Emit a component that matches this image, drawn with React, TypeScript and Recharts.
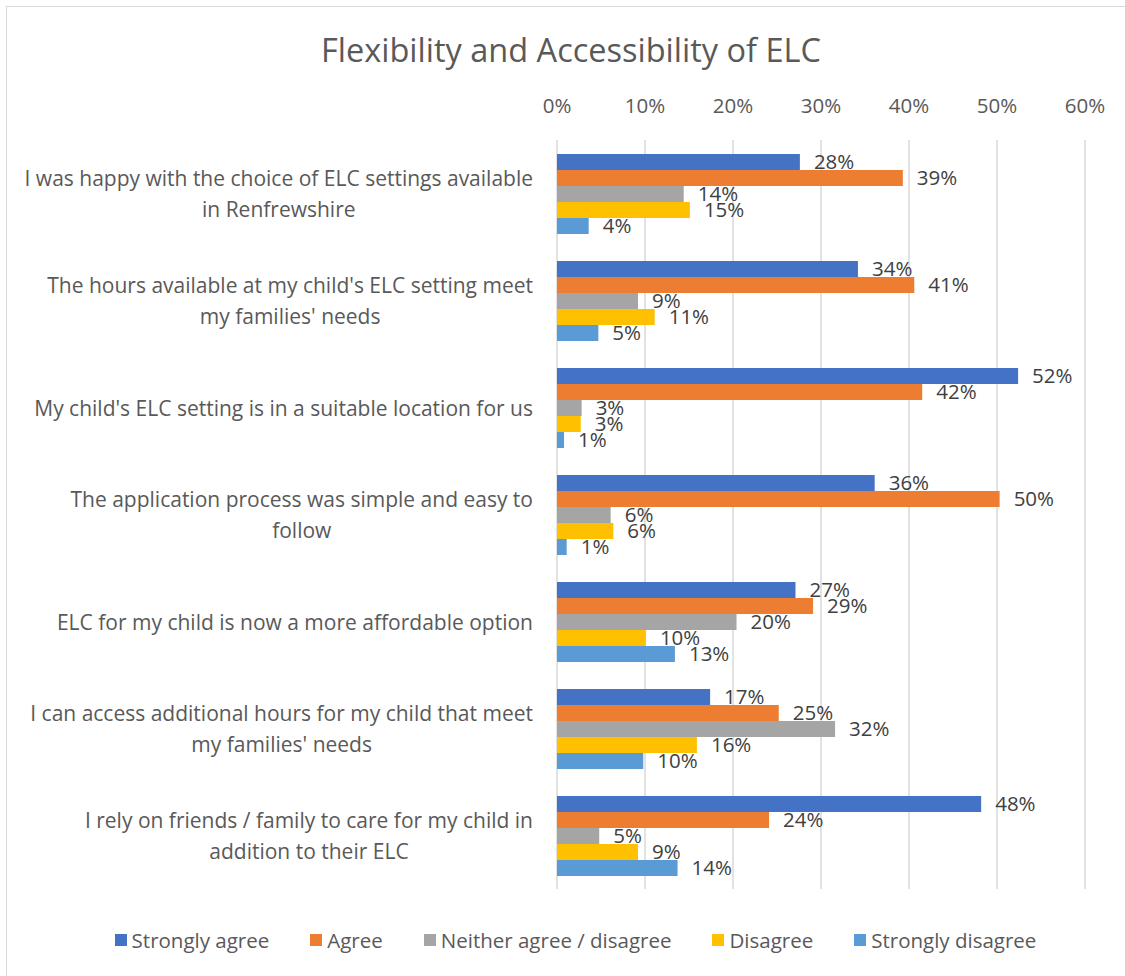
import React from "react";
import { BarChart, Bar, XAxis, YAxis, CartesianGrid, Legend, LabelList } from "recharts";

const categories = [
  "I was happy with the choice of ELC settings available\nin Renfrewshire",
  "The hours available at my child's ELC setting meet\nmy families' needs",
  "My child's ELC setting is in a suitable location for us",
  "The application process was simple and easy to\nfollow",
  "ELC for my child is now a more affordable option",
  "I can access additional hours for my child that meet\nmy families' needs",
  "I rely on friends / family to care for my child in\naddition to their ELC",
];

const stronglyAgree = [0.276, 0.342, 0.524, 0.361, 0.271, 0.174, 0.482];
const agree = [0.393, 0.406, 0.415, 0.503, 0.291, 0.252, 0.241];
const neither = [0.144, 0.092, 0.028, 0.061, 0.204, 0.316, 0.048];
const disagree = [0.151, 0.111, 0.027, 0.064, 0.101, 0.159, 0.092];
const stronglyDisagree = [0.036, 0.047, 0.008, 0.011, 0.134, 0.098, 0.137];

const xTicks = [0, 0.1, 0.2, 0.3, 0.4, 0.5, 0.6];

const series = [
  { key: "sa", name: "Strongly agree", color: "#4472C4", values: stronglyAgree },
  { key: "a", name: "Agree", color: "#ED7D31", values: agree },
  { key: "n", name: "Neither agree / disagree", color: "#A5A5A5", values: neither },
  { key: "d", name: "Disagree", color: "#FFC000", values: disagree },
  { key: "sd", name: "Strongly disagree", color: "#5B9BD5", values: stronglyDisagree },
];

const data = categories.map((name, i) => {
  const row: any = { name };
  series.forEach((s) => (row[s.key] = s.values[i]));
  return row;
});

const FONT = "'Open Sans', Lato, sans-serif";
const TEXT = "#595959";
const FS = 21;

let ctx: CanvasRenderingContext2D | null = null;
function measure(s: string) {
  if (!ctx) ctx = document.createElement("canvas").getContext("2d");
  if (!ctx) return s.length * 10;
  ctx.font = `${FS}px ${FONT}`;
  return ctx.measureText(s).width;
}

const pct = (v: any) => `${Math.round(Number(v) * 100)}%`;

// category labels: wrapped lines centred on the widest line, right edge at 533
function CategoryTick({ y, payload }: any) {
  const lines = String(payload.value).split("\n");
  const maxW = Math.max(...lines.map(measure));
  const cx = 533 - maxW / 2;
  return (
    <g>
      {lines.map((ln, i) => (
        <text
          key={i}
          x={cx}
          y={y + (i - (lines.length - 1) / 2) * 31}
          textAnchor="middle"
          dominantBaseline="central"
          fill={TEXT}
          fontSize={FS}
          fontFamily={FONT}
        >
          {ln}
        </text>
      ))}
    </g>
  );
}

function PctTick({ x, payload }: any) {
  return (
    <text x={x} y={105} textAnchor="middle" dominantBaseline="central" fill={TEXT} fontSize={20.5} fontFamily={FONT}>
      {pct(payload.value)}
    </text>
  );
}

function LegendContent() {
  return (
    <div style={{ display: "flex", justifyContent: "center", gap: 41, height: 24, alignItems: "center", paddingLeft: 26 }}>
      {series.map((s) => (
        <div key={s.key} style={{ display: "flex", alignItems: "center", gap: 5 }}>
          <span style={{ width: 12, height: 12, background: s.color, display: "inline-block" }} />
          <span style={{ color: TEXT, fontSize: 20.5, fontFamily: FONT }}>{s.name}</span>
        </div>
      ))}
    </div>
  );
}

export default function App() {
  return (
    <div style={{ position: "absolute", left: 0, top: 0, width: 1125, height: 976, background: "#fff", overflow: "hidden" }}>
      <div
        style={{
          position: "absolute",
          left: 6,
          top: 6,
          width: 1140,
          height: 1000,
          border: "1.5px solid #D9D9D9",
          boxSizing: "border-box",
        }}
      />
      <div
        style={{
          position: "absolute",
          left: 0,
          width: 1142,
          top: 27,
          textAlign: "center",
          fontFamily: FONT,
          fontSize: 32.5,
          color: TEXT,
        }}
      >
        Flexibility and Accessibility of ELC
      </div>
      <div style={{ position: "absolute", left: 0, top: 0 }}>
        <BarChart
          width={1125}
          height={976}
          data={data}
          layout="vertical"
          margin={{ top: 100, right: 40, bottom: 63, left: 0 }}
          barCategoryGap={14}
          barGap={0}
        >
          <CartesianGrid horizontal={false} stroke="#D9D9D9" strokeWidth={1.5} />
          <XAxis
            type="number"
            orientation="top"
            domain={[0, 0.6]}
            ticks={xTicks}
            height={40}
            axisLine={false}
            tickLine={false}
            tick={<PctTick />}
            interval={0}
          />
          <YAxis
            type="category"
            dataKey="name"
            width={557}
            axisLine={false}
            tickLine={false}
            tick={<CategoryTick />}
            interval={0}
          />
          <Legend
            verticalAlign="bottom"
            content={<LegendContent />}
            wrapperStyle={{ top: 928, bottom: "auto", left: 0, width: 1125 }}
          />
          {series.map((s) => (
            <Bar key={s.key} dataKey={s.key} name={s.name} fill={s.color} isAnimationActive={false}>
              <LabelList
                dataKey={s.key}
                position="right"
                offset={14}
                formatter={pct}
                fill="#404040"
                fontSize={20.5}
                fontFamily={FONT}
              />
            </Bar>
          ))}
        </BarChart>
      </div>
    </div>
  );
}
